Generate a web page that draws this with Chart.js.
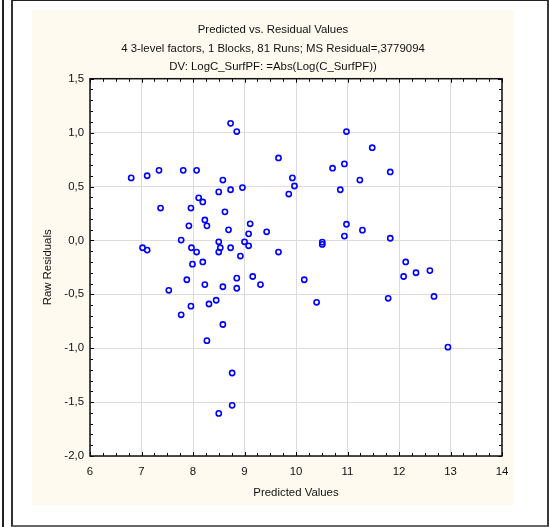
<!DOCTYPE html>
<html>
<head>
<meta charset="utf-8">
<script src="https://cdn.jsdelivr.net/npm/chart.js@4"></script>
<style>
  body { margin: 0; background: #fff; width: 549px; height: 527px; position: relative; overflow: hidden; }
  #lline { position: absolute; left: 2px; top: 0; width: 2px; height: 527px; background: #222; }
  #frame { position: absolute; left: 11px; top: 0; width: 534px; height: 524px; border-left: 2px solid #333; border-top: 1px solid #222; border-right: 2px solid #3a3a3a; border-bottom: 2px solid #666; }
  #wrap { position: absolute; left: 32px; top: 10px; width: 482px; height: 495px; background: #fefaf0; }
</style>
</head>
<body>
<div id="lline"></div>
<div id="frame"></div>
<div id="wrap"><canvas id="myChart" width="482" height="495"></canvas></div>
<script>
// values
const predicted = [
  6.80, 7.11, 7.34, 7.81, 8.07, 8.73, 8.85, 9.66, 9.93, 9.97, 9.86, 8.58, 8.73, 8.96, 8.50,
  8.11, 8.19, 7.37, 7.96, 8.62, 8.23, 7.92, 8.27, 9.11, 8.69, 9.43, 9.08, 7.77, 8.50, 9.00,
  9.08, 7.02, 7.11, 7.97, 8.07, 8.53, 8.50, 8.73, 9.66, 8.92, 7.99, 8.19, 7.88, 8.85, 9.16,
  10.98, 11.48, 10.71, 10.94, 11.83, 11.24, 10.86, 10.98, 11.29, 10.94, 11.83, 10.51, 10.51,
  12.13, 12.33, 12.60, 12.09, 10.16,
  10.40, 11.79, 12.68, 12.95,
  7.53, 8.23, 8.58, 8.85, 9.31, 8.45, 8.31, 7.96, 7.77, 8.58, 8.27, 8.76, 8.76, 8.50
];
const residuals = [
  0.58, 0.60, 0.65, 0.65, 0.65, 1.086, 1.01, 0.765, 0.58, 0.505, 0.43, 0.56, 0.47, 0.49, 0.45,
  0.395, 0.357, 0.30, 0.30, 0.265, 0.19, 0.135, 0.135, 0.154, 0.098, 0.08, 0.061, 0.003, -0.013, -0.013,
  -0.05, -0.068, -0.09, -0.068, -0.108, -0.068, -0.108, -0.068, -0.108, -0.145, -0.22, -0.20, -0.365, -0.35, -0.335,
  1.01, 0.86, 0.67, 0.71, 0.635, 0.56, 0.47, 0.15, 0.095, 0.04, 0.02, -0.016, -0.037,
  -0.20, -0.30, -0.28, -0.335, -0.365,
  -0.574, -0.537, -0.52, -0.99,
  -0.463, -0.41, -0.43, -0.444, -0.41, -0.555, -0.59, -0.61, -0.69, -0.78, -0.93, -1.23, -1.53, -1.605
];
const titleLines = [
  'Predicted vs. Residual Values',
  '4 3-level factors, 1 Blocks, 81 Runs; MS Residual=,3779094',
  'DV: LogC_SurfPF: =Abs(Log(C_SurfPF))'
];
const xMin = 6, xMax = 14, xStep = 1, xMinor = 0.25;
const yMin = -2, yMax = 1.5, yStep = 0.5, yMinor = 0.1;

const points = predicted.map((p, i) => ({ x: p, y: residuals[i] }));

const FONT = "'Liberation Sans', Arial, sans-serif";
const FS = 11.4;

// white plot area, frame and inward tick marks on all four sides
const framePlugin = {
  id: 'framePlugin',
  beforeDraw(chart) {
    const a = chart.chartArea, c = chart.ctx;
    c.save();
    c.fillStyle = '#ffffff';
    c.fillRect(a.left, a.top, a.right - a.left, a.bottom - a.top);
    c.restore();
  },
  afterDraw(chart) {
    const a = chart.chartArea, c = chart.ctx;
    const xs = chart.scales.x, ys = chart.scales.y;
    c.save();
    c.strokeStyle = '#000';
    c.lineWidth = 1;
    c.beginPath();
    for (let v = xMin; v <= xMax + 1e-9; v += xMinor) {
      const px = Math.round(xs.getPixelForValue(v)) + 0.5;
      const len = Math.abs(v - Math.round(v)) < 1e-6 ? 4 : 3;
      c.moveTo(px, a.bottom); c.lineTo(px, a.bottom - len);
      c.moveTo(px, a.top); c.lineTo(px, a.top + len);
    }
    for (let v = yMin; v <= yMax + 1e-9; v += yMinor) {
      const py = Math.round(ys.getPixelForValue(v)) + 0.5;
      const len = Math.abs(v * 2 - Math.round(v * 2)) < 1e-6 ? 4 : 3;
      c.moveTo(a.left, py); c.lineTo(a.left + len, py);
      c.moveTo(a.right, py); c.lineTo(a.right - len, py);
    }
    c.stroke();
    c.lineWidth = 1.5;
    c.strokeStyle = '#111';
    c.strokeRect(a.left, a.top, a.right - a.left, a.bottom - a.top);
    c.restore();
  }
};

new Chart(document.getElementById('myChart'), {
  type: 'scatter',
  data: {
    datasets: [{
      data: points,
      pointRadius: 2.6,
      pointBorderWidth: 1.6,
      pointBorderColor: '#0000ff',
      pointBackgroundColor: 'rgba(255,255,255,0)',
      pointHoverRadius: 2.6
    }]
  },
  options: {
    responsive: false,
    animation: false,
    layout: { padding: 0 },
    plugins: {
      legend: { display: false },
      tooltip: { enabled: false },
      title: {
        display: true,
        text: titleLines,
        color: '#111',
        font: { family: FONT, size: FS, weight: 'normal', lineHeight: 1.6 },
        padding: { top: 11, bottom: 3 }
      }
    },
    scales: {
      x: {
        type: 'linear',
        min: xMin, max: xMax,
        afterFit(s) { s.height = 49; s.paddingLeft = 0; s.paddingRight = 12; },
        ticks: {
          stepSize: xStep,
          color: '#111',
          font: { family: FONT, size: FS },
          padding: 9,
          maxRotation: 0,
          callback: v => String(v)
        },
        grid: { color: '#dcdcdc', lineWidth: 1, drawTicks: false },
        border: { display: false },
        title: {
          display: true,
          text: 'Predicted Values',
          color: '#111',
          font: { family: FONT, size: FS },
          padding: { top: 5, bottom: 5 }
        }
      },
      y: {
        type: 'linear',
        min: yMin, max: yMax,
        afterFit(s) { s.width = 58; },
        ticks: {
          stepSize: yStep,
          color: '#111',
          font: { family: FONT, size: FS },
          padding: 6,
          callback: v => v.toFixed(1).replace('.', ',')
        },
        grid: { color: '#dcdcdc', lineWidth: 1, drawTicks: false },
        border: { display: false },
        title: {
          display: true,
          text: 'Raw Residuals',
          color: '#111',
          font: { family: FONT, size: FS },
          padding: { top: 9, bottom: 0 }
        }
      }
    }
  },
  plugins: [framePlugin]
});
</script>
</body>
</html>
